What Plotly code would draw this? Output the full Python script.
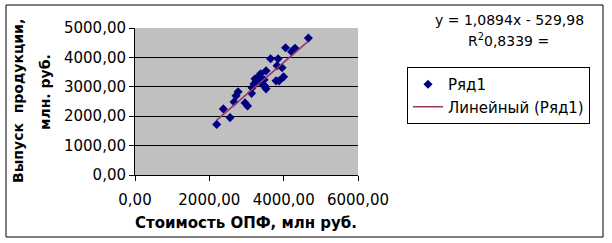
import plotly.graph_objects as go

# Стоимость ОПФ, млн руб. (x) and Выпуск продукции, млн. руб. (y)
x_opf = [2199, 2377, 2557, 2665, 2719, 2773, 2961, 3028, 3136, 3203, 3230,
         3271, 3325, 3378, 3365, 3432, 3499, 3526, 3526, 3648, 3850, 3823,
         3796, 3876, 3957, 3998, 4051, 4213, 4267, 4307, 4665, 3150, 3473]
y_vyp = [1721, 2249, 1952, 2487, 2692, 2828, 2453, 2351, 2777, 3100, 3271,
         3186, 3339, 3441, 3169, 3083, 3015, 2930, 3543, 3952, 3952, 3714,
         3203, 3203, 3646, 3339, 4327, 4191, 4259, 4310, 4657, 2964, 3237]

slope = 1.0894
intercept = -529.98
eq_text = "y = 1,0894x - 529,98"
r2_text = "R<sup>2</sup>0,8339 ="

x_ticks = [0, 2000, 4000, 6000]
y_ticks = [0, 1000, 2000, 3000, 4000, 5000]

FONT = "DejaVu Sans"
W, H = 612, 243
L, R, T, B = 135, 254, 28, 68
pw, ph = W - L - R, H - T - B

def px(xp):
    return (xp - L) / pw

def py(yp):
    return (H - B - yp) / ph

xmin, xmax = min(x_opf), max(x_opf)
trend_x = [xmin, xmax]
trend_y = [slope * v + intercept for v in trend_x]

fig = go.Figure()
fig.add_trace(go.Scatter(
    x=x_opf, y=y_vyp, mode="markers", name="Ряд1",
    marker=dict(symbol="diamond", size=7, color="#000080"),
))
fig.add_trace(go.Scatter(
    x=trend_x, y=trend_y, mode="lines", name="Линейный (Ряд1)",
    line=dict(color="#993366", width=1.5),
))

fig.update_layout(
    width=W, height=H,
    margin=dict(l=L, r=R, t=T, b=B),
    paper_bgcolor="white", plot_bgcolor="#C0C0C0",
    separators=", ",
    font=dict(family=FONT, size=15, color="black"),
    legend=dict(
        x=px(407), y=py(67), xanchor="left", yanchor="top",
        bordercolor="black", borderwidth=1, bgcolor="white",
        font=dict(family=FONT, size=15, color="black"),
        tracegroupgap=0, itemwidth=30,
    ),
    xaxis=dict(
        range=[0, 6000], tickvals=x_ticks, tickformat=".2f",
        showgrid=False, zeroline=False, showline=True, linecolor="black",
        ticks="outside", ticklen=5, tickcolor="black", ticklabelstandoff=6,
        tickfont=dict(family=FONT, size=15, color="black"),
    ),
    yaxis=dict(
        range=[0, 5000], tickvals=y_ticks, tickformat=".2f",
        showgrid=True, gridcolor="black", gridwidth=1, zeroline=False,
        showline=True, linecolor="black",
        ticks="outside", ticklen=5, tickcolor="black",
        tickfont=dict(family=FONT, size=15, color="black"),
    ),
    shapes=[dict(type="rect", xref="paper", yref="paper",
                 x0=px(6), x1=px(603), y0=py(237), y1=py(5),
                 line=dict(color="black", width=1), layer="below")],
    annotations=[
        dict(text="<b>Выпуск  продукции,</b>", textangle=-90, xref="paper", yref="paper",
             x=px(18), y=py(101), xanchor="center", yanchor="middle", showarrow=False,
             font=dict(family=FONT, size=14)),
        dict(text="<b>млн. руб.</b>", textangle=-90, xref="paper", yref="paper",
             x=px(45), y=py(92), xanchor="center", yanchor="middle", showarrow=False,
             font=dict(family=FONT, size=14)),
        dict(text="<b>Стоимость ОПФ, млн руб.</b>", xref="paper", yref="paper",
             x=px(246), y=py(223), xanchor="center", yanchor="middle", showarrow=False,
             font=dict(family=FONT, size=15)),
        dict(text=eq_text, xref="paper", yref="paper",
             x=px(509), y=py(20), xanchor="center", yanchor="middle", showarrow=False,
             font=dict(family=FONT, size=14)),
        dict(text=r2_text, xref="paper", yref="paper",
             x=px(508), y=py(40), xanchor="center", yanchor="middle", showarrow=False,
             font=dict(family=FONT, size=14)),
    ],
)

fig.write_html("out.html")
